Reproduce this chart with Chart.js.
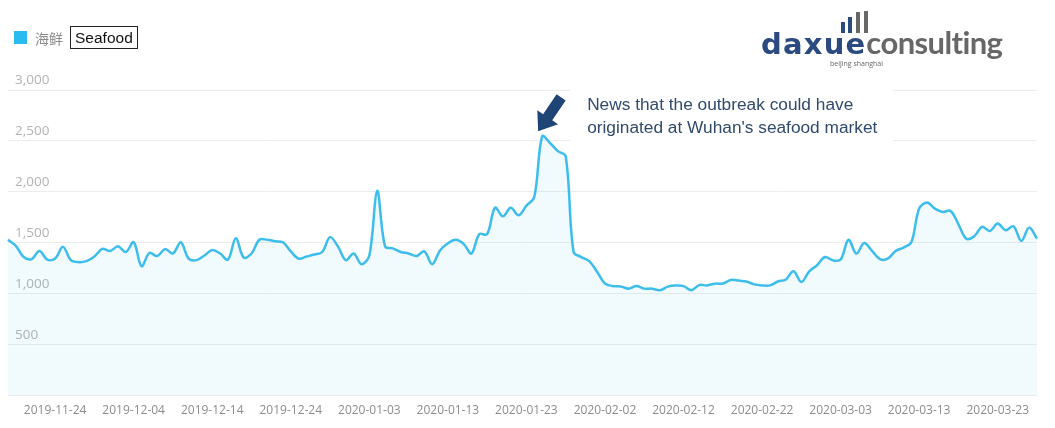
<!DOCTYPE html>
<html><head><meta charset="utf-8">
<script src="https://cdn.jsdelivr.net/npm/chart.js@4"></script>
<style>
html,body{margin:0;padding:0;background:#fff;}
#wrap{position:relative;width:1055px;height:428px;overflow:hidden;background:#fff;}
#c{position:absolute;left:0;top:0;}
.legend{position:absolute;left:14px;top:26px;height:23px;display:flex;align-items:center;font-family:"Liberation Sans",Arial,sans-serif;}
.legend .sw{width:13px;height:13px;background:#2bbbef;margin-right:8px;}
.legend .cn{font-family:"Noto Sans CJK SC",sans-serif;font-size:14px;color:#8a8a8a;margin-right:7px;}
.legend .en{border:1px solid #222;font-size:15.5px;color:#111;padding:1px 4px;line-height:19px;}
.logo{position:absolute;left:760px;top:8px;width:280px;height:64px;}
.logo .word{position:absolute;left:1px;top:14px;font-weight:700;line-height:40px;white-space:nowrap;}
.logo .dx{color:#2a4a80;font-family:"DejaVu Sans",sans-serif;font-size:29px;letter-spacing:1.2px;}
.logo .cs{color:#676767;font-family:Lato,sans-serif;font-size:31px;letter-spacing:-0.6px;}
.logo .bar{position:absolute;width:4px;}
.logo .sub{position:absolute;left:70px;top:51px;font-family:"Open Sans",sans-serif;font-size:7px;color:#666;white-space:nowrap;}
</style></head><body>
<div id="wrap">
<canvas id="c" width="1055" height="428"></canvas>
<div class="legend"><div class="sw"></div><span class="cn">海鲜</span><span class="en">Seafood</span></div>
<div class="logo">
  <div class="bar" style="left:81px;top:14px;height:11px;background:#2a4a80"></div>
  <div class="bar" style="left:88px;top:9px;height:16px;background:#2a4a80"></div>
  <div class="bar" style="left:96px;top:4px;height:21px;background:#676767"></div>
  <div class="bar" style="left:104px;top:3px;height:22px;background:#676767"></div>
  <div class="word"><span class="dx">daxue</span><span class="cs">consulting</span></div>
  <div class="sub">beijing shanghai</div>
</div>
</div>
<script>
const dates = [
 "2019-11-18","2019-11-19","2019-11-20","2019-11-21","2019-11-22","2019-11-23","2019-11-24","2019-11-25","2019-11-26","2019-11-27","2019-11-28","2019-11-29","2019-11-30",
 "2019-12-01","2019-12-02","2019-12-03","2019-12-04","2019-12-05","2019-12-06","2019-12-07","2019-12-08","2019-12-09","2019-12-10","2019-12-11","2019-12-12","2019-12-13","2019-12-14","2019-12-15","2019-12-16","2019-12-17","2019-12-18","2019-12-19","2019-12-20","2019-12-21","2019-12-22","2019-12-23","2019-12-24","2019-12-25","2019-12-26","2019-12-27","2019-12-28","2019-12-29","2019-12-30","2019-12-31",
 "2020-01-01","2020-01-02","2020-01-03","2020-01-04","2020-01-05","2020-01-06","2020-01-07","2020-01-08","2020-01-09","2020-01-10","2020-01-11","2020-01-12","2020-01-13","2020-01-14","2020-01-15","2020-01-16","2020-01-17","2020-01-18","2020-01-19","2020-01-20","2020-01-21","2020-01-22","2020-01-23","2020-01-24","2020-01-25","2020-01-26","2020-01-27","2020-01-28","2020-01-29","2020-01-30","2020-01-31",
 "2020-02-01","2020-02-02","2020-02-03","2020-02-04","2020-02-05","2020-02-06","2020-02-07","2020-02-08","2020-02-09","2020-02-10","2020-02-11","2020-02-12","2020-02-13","2020-02-14","2020-02-15","2020-02-16","2020-02-17","2020-02-18","2020-02-19","2020-02-20","2020-02-21","2020-02-22","2020-02-23","2020-02-24","2020-02-25","2020-02-26","2020-02-27","2020-02-28","2020-02-29",
 "2020-03-01","2020-03-02","2020-03-03","2020-03-04","2020-03-05","2020-03-06","2020-03-07","2020-03-08","2020-03-09","2020-03-10","2020-03-11","2020-03-12","2020-03-13","2020-03-14","2020-03-15","2020-03-16","2020-03-17","2020-03-18","2020-03-19","2020-03-20","2020-03-21","2020-03-22","2020-03-23","2020-03-24","2020-03-25","2020-03-26","2020-03-27","2020-03-28"
];
const seafood = [
 1530,1470,1360,1340,1420,1335,1345,1460,1330,1310,1320,1365,1440,
 1420,1465,1410,1505,1270,1400,1370,1440,1395,1505,1345,1330,1375,1430,1395,1335,1545,1355,1395,1530,1530,1515,1505,1415,1345,1365,1385,1410,1555,1465,1330,
 1395,1290,1375,2010,1465,1445,1410,1395,1370,1415,1290,1425,1495,1530,1490,1395,1585,1585,1845,1760,1845,1770,1865,1950,2545,2480,2400,2350,1410,1360,1320,
 1215,1100,1075,1072,1050,1075,1050,1050,1035,1070,1080,1075,1035,1085,1082,1099,1099,1135,1130,1120,1092,1082,1082,1120,1138,1220,1115,1220,1280,
 1360,1328,1335,1530,1394,1498,1420,1340,1344,1420,1453,1505,1836,1895,1836,1803,1813,1682,1540,1564,1656,1616,1689,1623,1662,1518,1649,1541
];
const xTickLabels = ["2019-11-24","2019-12-04","2019-12-14","2019-12-24","2020-01-03","2020-01-13","2020-01-23","2020-02-02","2020-02-12","2020-02-22","2020-03-03","2020-03-13","2020-03-23"];
const yTicks = [0,500,1000,1500,2000,2500,3000];
const annotationLines = ["News that the outbreak could have","originated at Wuhan's seafood market"];

const annot = {
  id:'annot',
  beforeDatasetsDraw(chart){
    const ctx = chart.ctx;
    ctx.save();
    ctx.fillStyle = '#fff';
    ctx.fillRect(570, 84, 323, 62);
    ctx.restore();
  },
  afterDraw(chart){
    const ctx = chart.ctx;
    const xs = chart.scales.x, ys = chart.scales.y;
    const pk = seafood.indexOf(Math.max(...seafood));
    const tipX = xs.getPixelForValue(pk) - 4;
    const tipY = ys.getPixelForValue(seafood[pk]) - 5;
    const tailX = tipX + 23, tailY = tipY - 34;
    const ang = Math.atan2(tipY - tailY, tipX - tailX);
    const L = Math.hypot(tipX - tailX, tipY - tailY);
    ctx.save();
    ctx.translate(tailX, tailY);
    ctx.rotate(ang);
    ctx.fillStyle = '#1f4476';
    ctx.beginPath();
    ctx.moveTo(0,-5.5); ctx.lineTo(L-17,-5.5); ctx.lineTo(L-17,-12.5); ctx.lineTo(L,0);
    ctx.lineTo(L-17,12.5); ctx.lineTo(L-17,5.5); ctx.lineTo(0,5.5); ctx.closePath();
    ctx.fill();
    ctx.restore();
    ctx.save();
    ctx.fillStyle = '#2f4a6d';
    ctx.font = '17.3px "Liberation Sans", Arial, sans-serif';
    ctx.textBaseline = 'middle';
    ctx.fillText(annotationLines[0], tipX + 49, 105);
    ctx.fillText(annotationLines[1], tipX + 49, 128);
    ctx.restore();
  }
};

new Chart(document.getElementById('c'), {
  type:'line',
  data:{labels:dates, datasets:[{
    label:'海鲜', data:seafood,
    borderColor:'#3dbdec', borderWidth:2.5, pointRadius:0, tension:0.35,
    fill:true, backgroundColor:'rgba(60,180,230,0.07)'
  }]},
  options:{
    responsive:false, animation:false,
    layout:{padding:{left:8,right:18,top:90,bottom:2}},
    plugins:{legend:{display:false}, tooltip:{enabled:false}},
    scales:{
      x:{
        grid:{display:false, drawTicks:false},
        border:{display:false},
        ticks:{autoSkip:false, maxRotation:0, padding:8, color:'#8c8c8c',
          font:{family:'"Open Sans", sans-serif', size:12},
          callback(v,i){ const l = dates[i]; return xTickLabels.includes(l) ? l : ''; }
        }
      },
      y:{
        min:0, max:3000,
        afterBuildTicks(s){ s.ticks = yTicks.map(v=>({value:v})); },
        afterFit(s){ s.width = 0; },
        grid:{color:'#ececec', drawTicks:false, lineWidth:1},
        border:{display:false},
        ticks:{mirror:true, padding:7, labelOffset:-10, color:'#b3b3b3',
          font:{family:'"Open Sans", sans-serif', size:13.5},
          callback(v){ return v === 0 ? '' : v.toLocaleString('en-US'); }
        }
      }
    }
  },
  plugins:[annot]
});
</script>
</body></html>
